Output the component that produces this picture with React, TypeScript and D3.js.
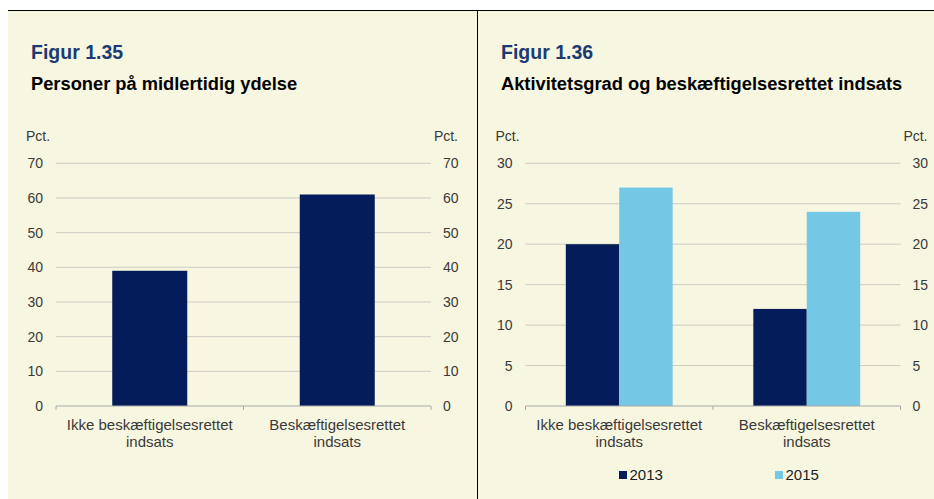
import React from "react";
import * as d3 from "d3";

const categories = ["Ikke beskæftigelsesrettet\nindsats", "Beskæftigelsesrettet\nindsats"];
const values135 = [39, 61];
const series136 = ["2013", "2015"];
const values2013 = [20, 12];
const values2015 = [27, 24];
const ticks135 = [0, 10, 20, 30, 40, 50, 60, 70];
const ticks136 = [0, 5, 10, 15, 20, 25, 30];

const BG = "#F7F6E1";
const NAVY = "#041D5A";
const LIGHT = "#74C8E6";
const GRID = "#CCCCC2";
const AXIS = "#A8A8A8";
const TXT = "#3A3A3A";
const FONT = "'Liberation Sans', Arial, sans-serif";

type PanelProps = {
  x0: number;
  x1: number;
  title: string;
  subtitle: string;
  titleX: number;
  ticks: number[];
  max: number;
  series: { name: string; color: string; values: number[] }[];
  barFrac: number;
  legend?: boolean;
};

function Panel({ x0, x1, title, subtitle, titleX, ticks, max, series, barFrac, legend }: PanelProps) {
  const yTop = 163.3;
  const yBot = 406;
  const y = d3.scaleLinear().domain([0, max]).range([yBot, yTop]);
  const x = d3.scaleBand<string>().domain(categories).range([x0, x1]).padding(0);
  const groupW = x.bandwidth() * barFrac;
  const names = series.map((s) => s.name);
  return (
    <g>
      <text x={titleX} y={58.5} fontFamily={FONT} fontWeight="bold" fontSize={19.5} fill="#1B3B72">
        {title}
      </text>
      <text x={titleX} y={89.5} fontFamily={FONT} fontWeight="bold" fontSize={18.3} fill="#000">
        {subtitle}
      </text>
      <text x={x0 - 30} y={141} fontFamily={FONT} fontSize={14} fill={TXT}>
        Pct.
      </text>
      <text x={x1 + 27} y={141} fontFamily={FONT} fontSize={14} fill={TXT} textAnchor="end">
        Pct.
      </text>
      {ticks.map((t) => (
        <g key={t}>
          {t > 0 && <line x1={x0} x2={x1} y1={y(t)} y2={y(t)} stroke={GRID} strokeWidth={1} />}
          <text x={x0 - 13} y={y(t) + 5} fontFamily={FONT} fontSize={14} fill={TXT} textAnchor="end">
            {t}
          </text>
          <text x={x1 + 12} y={y(t) + 5} fontFamily={FONT} fontSize={14} fill={TXT}>
            {t}
          </text>
        </g>
      ))}
      {categories.map((c, i) => {
        const cx = (x(c) as number) + x.bandwidth() / 2;
        const inner = d3.scaleBand<string>().domain(names).range([cx - groupW / 2, cx + groupW / 2]);
        return (
          <g key={c}>
            {series.map((s) => (
              <rect
                key={s.name}
                x={inner(s.name) as number}
                width={inner.bandwidth()}
                y={y(s.values[i])}
                height={yBot - y(s.values[i])}
                fill={s.color}
              />
            ))}
            {c.split("\n").map((line, k) => (
              <text key={k} x={cx} y={429.5 + k * 17} fontFamily={FONT} fontSize={15} fill={TXT} textAnchor="middle">
                {line}
              </text>
            ))}
          </g>
        );
      })}
      <line x1={x0} x2={x1} y1={yBot} y2={yBot} stroke={AXIS} strokeWidth={1} />
      {[x0, x0 + x.step(), x1].map((tx, i) => (
        <line key={i} x1={tx} x2={tx} y1={yBot} y2={yBot + 4} stroke={AXIS} strokeWidth={1} />
      ))}
      {legend &&
        series.map((s, i) => {
          const lx = [619, 775][i];
          return (
            <g key={s.name}>
              <rect x={lx} y={471} width={8} height={8} fill={s.color} />
              <text x={lx + 10.5} y={480} fontFamily={FONT} fontSize={15} fill="#222">
                {s.name}
              </text>
            </g>
          );
        })}
    </g>
  );
}

export default function App() {
  return (
    <div style={{ position: "absolute", left: 0, top: 0 }}>
      <svg width={934} height={499} style={{ display: "block" }}>
        <rect x={0} y={0} width={934} height={499} fill="#fff" />
        <rect x={8} y={10} width={926} height={489} fill={BG} />
        <line x1={8} x2={934} y1={10.5} y2={10.5} stroke="#000" strokeWidth={1} />
        <line x1={477.5} x2={477.5} y1={10} y2={499} stroke="#000" strokeWidth={1} />
        <Panel
          x0={56}
          x1={431}
          title="Figur 1.35"
          subtitle="Personer på midlertidig ydelse"
          titleX={31}
          ticks={ticks135}
          max={70}
          series={[{ name: "v", color: NAVY, values: values135 }]}
          barFrac={0.4}
        />
        <Panel
          x0={525.5}
          x1={900.5}
          title="Figur 1.36"
          subtitle="Aktivitetsgrad og beskæftigelsesrettet indsats"
          titleX={501}
          ticks={ticks136}
          max={30}
          series={[
            { name: series136[0], color: NAVY, values: values2013 },
            { name: series136[1], color: LIGHT, values: values2015 },
          ]}
          barFrac={0.57}
          legend
        />
      </svg>
    </div>
  );
}
